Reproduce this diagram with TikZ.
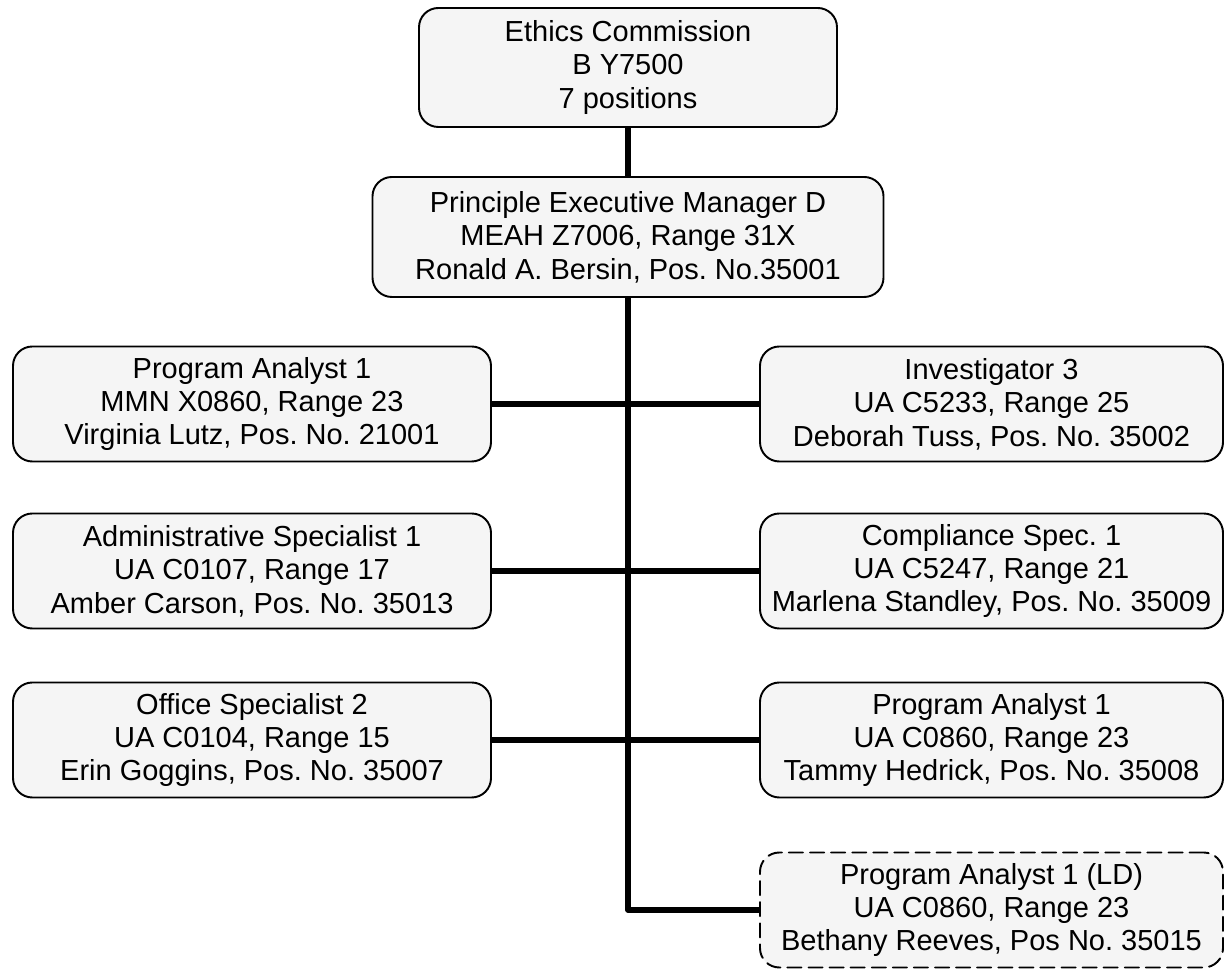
\documentclass[tikz,border=0pt]{standalone}
\usepackage{fontspec}
\setmainfont{Liberation Sans}
\frenchspacing
\begin{document}
\begin{tikzpicture}[x=1cm,y=1cm,line cap=round,line join=round,font=\fontsize{16.5}{19}\selectfont,
  post/.style={draw,line width=1.1pt,rounded corners=11pt,fill=black!4,align=center,inner sep=0pt,minimum height=2.3cm},
  leftpost/.style={post,minimum width=9.56cm},
  rightpost/.style={post,minimum width=9.26cm},
  vacant/.style={rightpost,dash pattern=on 8pt off 4pt},
  link/.style={line width=3pt,line cap=butt}]
  \useasboundingbox (0,0) rectangle (24.48,19.46);
  \node[post,minimum width=8.36cm,minimum height=2.38cm] (EC) at (12.56,18.11) {Ethics Commission\\B Y7500\\7 positions};
  \node[post,minimum width=10.22cm,minimum height=2.4cm] (PEM) at (12.56,14.72) {Principle Executive Manager D\\MEAH Z7006, Range 31X\\Ronald A. Bersin, Pos. No.35001};
  % left column
  \node[leftpost] (PA1) at (5.04,11.38) {Program Analyst 1\\MMN X0860, Range 23\\Virginia Lutz, Pos. No. 21001};
  \node[leftpost] (ADM) at (5.04,8.04) {Administrative Specialist 1\\UA C0107, Range 17\\Amber Carson, Pos. No. 35013};
  \node[leftpost] (OFF) at (5.04,4.66) {Office Specialist 2\\UA C0104, Range 15\\Erin Goggins, Pos. No. 35007};
  % right column
  \node[rightpost] (INV) at (19.83,11.38) {Investigator 3\\UA C5233, Range 25\\Deborah Tuss, Pos. No. 35002};
  \node[rightpost] (COMP) at (19.83,8.04) {Compliance Spec. 1\\UA C5247, Range 21\\Marlena Standley, Pos. No. 35009};
  \node[rightpost] (PA2) at (19.83,4.66) {Program Analyst 1\\UA C0860, Range 23\\Tammy Hedrick, Pos. No. 35008};
  \node[vacant] (PALD) at (19.83,1.26) {Program Analyst 1 (LD)\\UA C0860, Range 23\\Bethany Reeves, Pos No. 35015};
  \draw[link] (EC.south) -- (PEM.north);
  \draw[link] (PEM.south) |- (PALD.west);
  \draw[link] (PA1.east) -- (INV.west);
  \draw[link] (ADM.east) -- (COMP.west);
  \draw[link] (OFF.east) -- (PA2.west);
\end{tikzpicture}
\end{document}
